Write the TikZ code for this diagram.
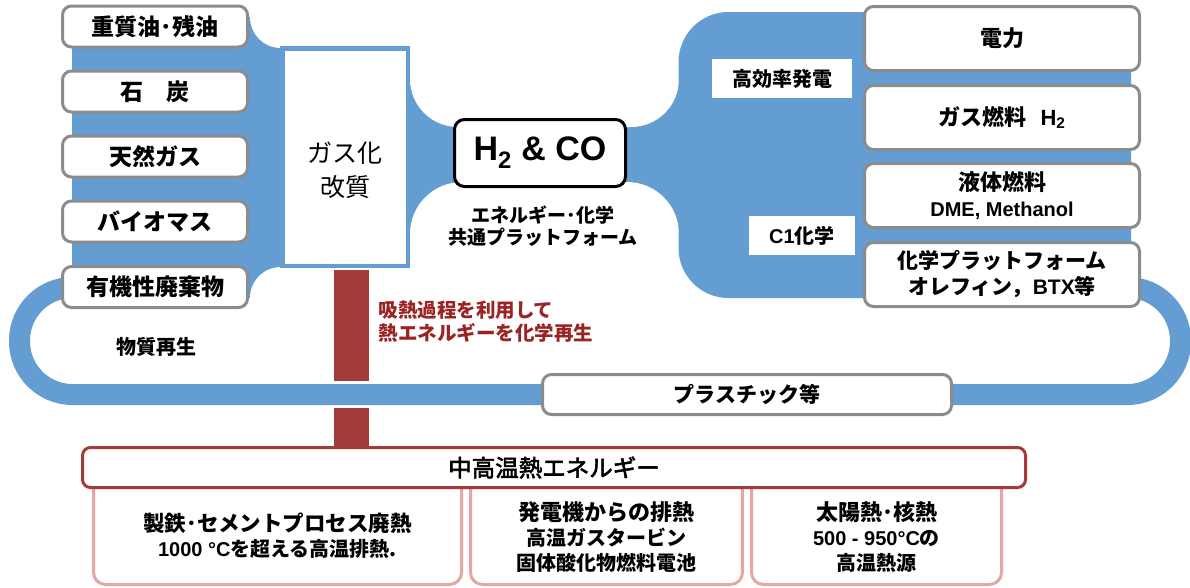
\documentclass[tikz,border=0pt]{standalone}
\usepackage{fontspec}
\setmainfont{Liberation Sans}
\newfontfamily\jp{Noto Sans CJK JP}
\newfontfamily\jpmed{Noto Sans CJK JP}[FakeBold=2.5]
\newcommand\myfs[2]{\fontsize{#1}{#2}\selectfont}
\definecolor{flow}{RGB}{99,157,210}
\definecolor{gbord}{RGB}{140,140,140}
\definecolor{heat}{RGB}{163,59,56}
\definecolor{heattxt}{RGB}{155,35,35}
\definecolor{pinkb}{RGB}{230,166,163}
\begin{document}
\begin{tikzpicture}[x=1pt,y=-1pt,
  gbox/.style={draw=gbord,line width=3pt,fill=white,rounded corners=9pt,inner sep=0pt,align=center,font={\jp\bfseries\myfs{23}{27}}},
  lbox/.style={gbox,minimum width=185pt,minimum height=41pt},
  rbox/.style={gbox,minimum width=275pt,minimum height=64pt,font={\jp\bfseries\myfs{22}{26}}},
  tagbox/.style={fill=white,minimum height=39pt,inner sep=0pt,font={\jp\bfseries\myfs{20}{24}}},
  pbox/.style={draw=pinkb,line width=3pt,fill=white,rounded corners=12pt,minimum height=113pt,inner sep=0pt},
  ptext/.style={align=center,font={\jp\bfseries\myfs{20}{25}}},
  plain/.style={align=center,font={\jp\bfseries\myfs{20}{24}}}
]
\useasboundingbox (0,0) rectangle (1190,587);
\fill[white] (0,0) rectangle (1190,587);
% left feed region
\fill[flow] (72,17) rectangle (282,298);
\fill[white] (281,17) circle[radius=31];
\fill[white] (281,298) circle[radius=31];
% central band
\fill[flow] (408,78) rectangle (679,266);
\fill[white,rounded corners=48pt] (410,-30) rectangle (679,127);
\fill[white,rounded corners=52pt] (410,182) rectangle (679,330);
% right product region
\fill[flow,rounded corners=50pt] (678.5,12) rectangle (1131,298);
% recycling loop
\draw[flow,line width=21pt,rounded corners=53pt] (140,287.5) -- (19.5,287.5) -- (19.5,394.5) -- (1180.5,394.5) -- (1180.5,287.5) -- (1100,287.5);
% heat bar
\fill[heat] (334,270) rectangle (369,381);
\fill[heat] (334,408) rectangle (369,447);

% left boxes
\node[lbox] (oil) at (155,26.5) {重質油･残油};
\node[lbox] (coal) at (155,91.5) {石　炭};
\node[lbox] (ngas) at (155,156.5) {天然ガス};
\node[lbox] (bio) at (155,221.5) {バイオマス};
\node[lbox] (waste) at (155,287) {有機性廃棄物};

% gasification box
\node[draw=flow,line width=4.5pt,fill=white,minimum width=125.5pt,minimum height=217.5pt,inner sep=0pt] (gasif) at (345,157) {};
\node[align=center,font={\jp\myfs{25}{34}}] (gasiftxt) at (345,170) {ガス化\\改質};

% syngas
\node[draw=black,line width=3pt,fill=white,rounded corners=10pt,minimum width=171pt,minimum height=67pt,inner sep=0pt,font={\rmfamily\bfseries\myfs{34}{40}}] (syn) at (540,153) {H\textsubscript{2} \& CO};
\node[align=center,font={\jp\bfseries\myfs{19}{22}}] (synlab) at (543,226) {エネルギー･化学\\共通プラットフォーム};

% right boxes
\node[rbox] (power) at (1002,38.5) {電力};
\node[rbox] (gfuel) at (1002,117.5) {ガス燃料\hspace{14pt}{\rmfamily H\textsubscript{2}}};
\node[rbox] (lfuel) at (1002,195.5) {液体燃料\\{\rmfamily\myfs{20}{26}DME, Methanol}};
\node[rbox,font={\jp\bfseries\myfs{21}{26}}] (chem) at (1002,274.5) {化学プラットフォーム\\オレフィン，{\rmfamily BTX}等};
\node[tagbox,minimum width=140pt] (eff) at (782,78.5) {高効率発電};
\node[tagbox,minimum width=106pt] (c1) at (802,235.5) {{\rmfamily C1}化学};

% loop labels
\node[plain] (regen) at (156,347) {物質再生};
\node[gbox,minimum width=409pt,minimum height=40pt,font={\jp\bfseries\myfs{21}{25}}] (plastic) at (747,394.5) {プラスチック等};
\node[anchor=west,align=left,text=heattxt,font={\jp\bfseries\myfs{19.5}{23}}] (heatlab) at (375,321.5) {吸熱過程を利用して\\熱エネルギーを化学再生};

% heat sources
\node[pbox,minimum width=368pt] (steel) at (277.5,528) {};
\node[pbox,minimum width=272pt] (turb) at (606.5,528) {};
\node[pbox,minimum width=250pt] (solar) at (876.5,528) {};
\node[draw=heat,line width=3pt,fill=white,rounded corners=8pt,minimum width=943pt,minimum height=40pt,inner sep=0pt,font={\jpmed\myfs{23.5}{28}}] (midheat) at (554,467.5) {中高温熱エネルギー};
\node[ptext] (steeltxt) at (277.5,535.5) {{\myfs{21.5}{25}製鉄･セメントプロセス廃熱}\\{\rmfamily 1000 °C}を超える高温排熱.};
\node[ptext] (turbtxt) at (606.5,537) {{\myfs{22}{25}発電機からの排熱}\\高温ガスタービン\\固体酸化物燃料電池};
\node[ptext] (solartxt) at (876.5,537) {{\myfs{22}{25}太陽熱･核熱}\\{\rmfamily 500 - 950°C}の\\高温熱源};
\end{tikzpicture}
\end{document}
